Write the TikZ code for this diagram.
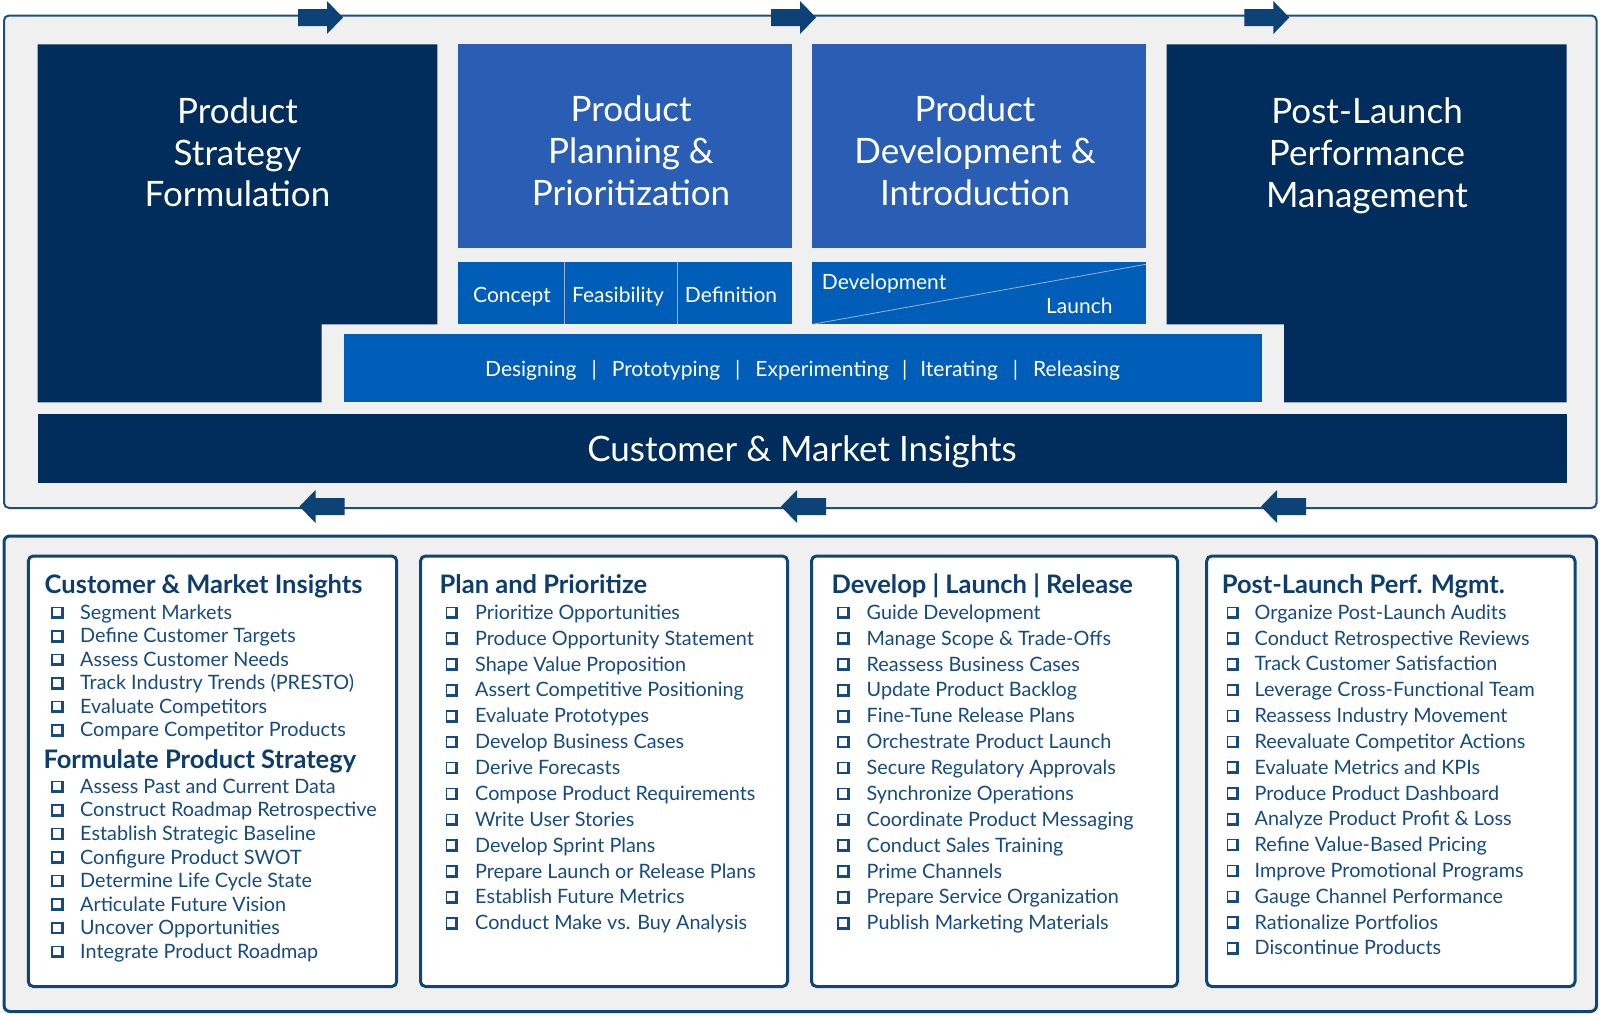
\documentclass[tikz,border=0pt]{standalone}
\usepackage{fontspec}
\setmainfont{Lato}
\definecolor{navy}{HTML}{002D5B}
\definecolor{planblue}{HTML}{2A5EB4}
\definecolor{brightblue}{HTML}{005EB8}
\definecolor{framec}{HTML}{1F4E7E}
\definecolor{arrowc}{HTML}{0C4276}
\definecolor{grayfill}{HTML}{F0F0F0}
\definecolor{boxline}{HTML}{0F4577}
\definecolor{itemc}{HTML}{174B7F}
\definecolor{headc}{HTML}{0D3D6E}
\definecolor{edgec}{HTML}{9DB2CF}
\begin{document}
\begin{tikzpicture}[x=1pt,y=-1pt,
  bigtxt/.style={text=white, align=center, inner sep=0, font=\fontsize{35}{41.7}\selectfont},
  midtxt/.style={text=white, inner sep=0, anchor=base, font=\fontsize{21}{24}\selectfont},
  item/.style={anchor=base west, inner sep=0, text=itemc, font=\fontsize{19.8}{24}\selectfont},
  headtxt/.style={anchor=base west, inner sep=0, text=headc, font=\bfseries\fontsize{25.5}{28}\selectfont},
  lowbox/.style={draw=boxline, line width=3pt, fill=white, rounded corners=5pt},
  rarr/.pic={\fill[arrowc] (0,-8.5) -- (29,-8.5) -- (29,-16.5) -- (45,0) -- (29,16.5) -- (29,8.5) -- (0,8.5) -- cycle;},
  cbox/.pic={\fill[itemc] (0,-12.8) rectangle (12.6,-0.3); \fill[white] (1.6,-11.2) rectangle (9.9,-2.9);}
]
\useasboundingbox (0,0) rectangle (1600,1015);
\fill[white] (0,0) rectangle (1600,1015);

% ===== top frame =====
\draw[framec, line width=2pt, fill=grayfill, rounded corners=5pt] (4,15.5) rectangle (1596.5,508);
\pic at (298,17.5) {rarr};
\pic at (771,17.5) {rarr};
\pic at (1244.3,17.5) {rarr};
\pic[xscale=-1] at (344.5,506.5) {rarr};
\pic[xscale=-1] at (826,506.5) {rarr};
\pic[xscale=-1] at (1306,506.5) {rarr};

% phase boxes
\fill[navy] (37.7,44.3) -- (437.3,44.3) -- (437.3,324.3) -- (321.7,324.3) -- (321.7,402.3) -- (37.7,402.3) -- cycle;
\fill[navy] (1166.7,44.3) -- (1566.7,44.3) -- (1566.7,402.3) -- (1284,402.3) -- (1284,324.3) -- (1166.7,324.3) -- cycle;
\node[bigtxt] (strat) at (237.5,152.3) {Product\\Strategy\\Formulation};
\node[bigtxt] (post) at (1367,155.8) {Post-Launch\\Performance\\Management};

\fill[planblue] (458.4,44.3) rectangle (791.5,248.3);
\fill[planblue] (812.3,44.3) rectangle (1145.8,248.3);
\node[bigtxt] (plan) at (631,150.7) {Product\\Planning \&\\Prioritization};
\node[bigtxt] (dev) at (975,150.7) {Product\\Development \&\\Introduction};

% concept row
\fill[brightblue] (458.4,262.3) rectangle (791.5,324.3);
\draw[edgec, line width=0.7pt] (564.8,262.3) -- (564.8,324.3);
\draw[edgec, line width=0.7pt] (677.7,262.3) -- (677.7,324.3);
\node[midtxt] (concept) at (512,302.7) {Concept};
\node[midtxt] (feas) at (618,302.7) {Feasibility};
\node[midtxt] (defn) at (731,302.7) {Definition};

% development / launch row
\fill[brightblue] (812.3,262.3) rectangle (1145.8,324.3);
\draw[edgec, line width=0.8pt] (812.3,324.3) -- (1145.8,264.3);
\node[midtxt, anchor=base west] (devl) at (821.7,289.3) {Development};
\node[midtxt, anchor=base east] (launch) at (1112.7,313.3) {Launch};

% designing bar
\fill[brightblue] (343.8,334) rectangle (1262.3,402.3);
\node[midtxt] (steps) at (802.5,376.7) {Designing\hspace{15pt}|\hspace{15pt}Prototyping\hspace{15pt}|\hspace{15pt}Experimenting\hspace{13pt}|\hspace{13pt}Iterating\hspace{15pt}|\hspace{15pt}Releasing};

% customer & market insights bar
\fill[navy] (37.7,414) rectangle (1566.5,483.3);
\node[text=white, inner sep=0, anchor=base, font=\fontsize{35}{40}\selectfont] (cmi) at (802,461.7) {Customer \& Market Insights};

% ===== bottom frame =====
\draw[boxline, line width=3pt, fill=grayfill, rounded corners=6pt] (4,536) rectangle (1596.5,1011.5);
\draw[lowbox] (28.3,556) rectangle (396.7,986.5);
\draw[lowbox] (420.5,556) rectangle (787.5,986.5);
\draw[lowbox] (811.5,556) rectangle (1177.5,986.5);
\draw[lowbox] (1206.7,556) rectangle (1575,986.5);

% box 1
\node[headtxt] (h1) at (44.5,593.5) {Customer \& Market Insights};
\foreach \t [count=\i from 0] in {Segment Markets,Define Customer Targets,Assess Customer Needs,Track Industry Trends (PRESTO),Evaluate Competitors,Compare Competitor Products}
  {\node[item] (a\i) at (80,619.3+23.5*\i) {\t};
   \pic at (51,619.3+23.5*\i) {cbox};}
\node[headtxt] (h1b) at (43.3,768.3) {Formulate Product Strategy};
\foreach \t [count=\i from 0] in {Assess Past and Current Data,Construct Roadmap Retrospective,Establish Strategic Baseline,Configure Product SWOT,Determine Life Cycle State,Articulate Future Vision,Uncover Opportunities,Integrate Product Roadmap}
  {\node[item] (b\i) at (80,793.3+23.57*\i) {\t};
   \pic at (51,793.3+23.57*\i) {cbox};}

% box 2
\node[headtxt] (h2) at (439.5,593.5) {Plan and Prioritize};
\foreach \t [count=\i from 0] in {Prioritize Opportunities,Produce Opportunity Statement,Shape Value Proposition,Assert Competitive Positioning,Evaluate Prototypes,Develop Business Cases,Derive Forecasts,Compose Product Requirements,Write User Stories,Develop Sprint Plans,Prepare Launch or Release Plans,Establish Future Metrics,Conduct Make vs. Buy Analysis}
  {\node[item] (c\i) at (475,619.3+25.88*\i) {\t};
   \pic at (445.5,619.3+25.88*\i) {cbox};}

% box 3
\node[headtxt] (h3) at (831.5,593.5) {Develop | Launch | Release};
\foreach \t [count=\i from 0] in {Guide Development,Manage Scope \& Trade-Offs,Reassess Business Cases,Update Product Backlog,Fine-Tune Release Plans,Orchestrate Product Launch,Secure Regulatory Approvals,Synchronize Operations,Coordinate Product Messaging,Conduct Sales Training,Prime Channels,Prepare Service Organization,Publish Marketing Materials}
  {\node[item] (d\i) at (866.5,619.3+25.88*\i) {\t};
   \pic at (837,619.3+25.88*\i) {cbox};}

% box 4
\node[headtxt] (h4) at (1221.6,593.5) {Post-Launch Perf. Mgmt.};
\foreach \t [count=\i from 0] in {Organize Post-Launch Audits,Conduct Retrospective Reviews,Track Customer Satisfaction,Leverage Cross-Functional Team,Reassess Industry Movement,Reevaluate Competitor Actions,Evaluate Metrics and KPIs,Produce Product Dashboard,Analyze Product Profit \& Loss,Refine Value-Based Pricing,Improve Promotional Programs,Gauge Channel Performance,Rationalize Portfolios,Discontinue Products}
  {\node[item] (e\i) at (1254.5,619.3+25.82*\i) {\t};
   \pic at (1226.5,619.3+25.82*\i) {cbox};}
\end{tikzpicture}
\end{document}
